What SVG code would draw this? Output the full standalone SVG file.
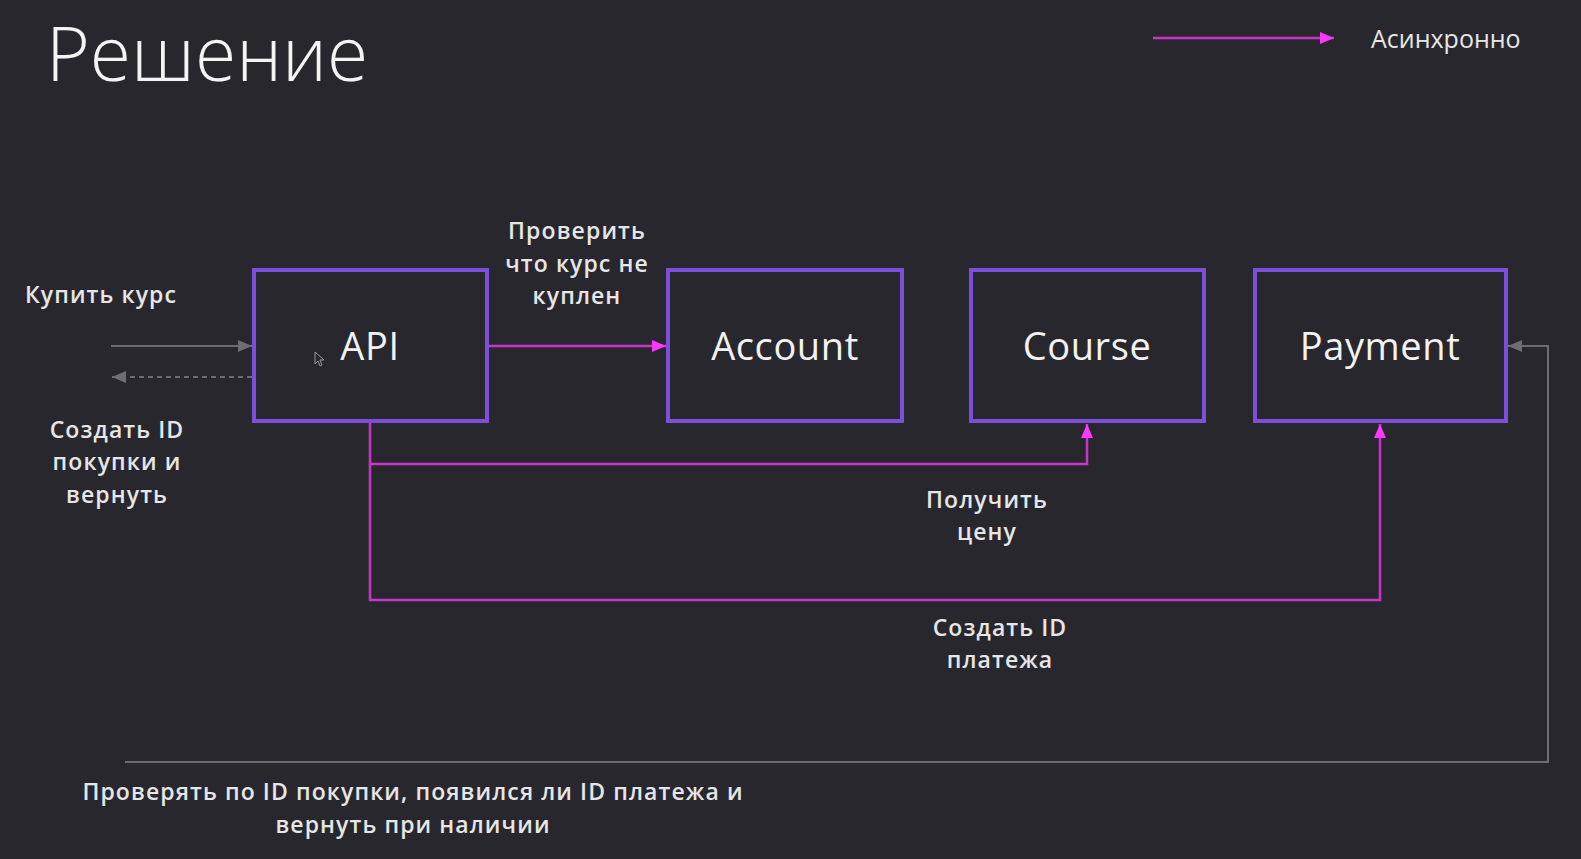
<svg xmlns="http://www.w3.org/2000/svg" width="1581" height="859" viewBox="0 0 1581 859">
<defs>
<style>
.bg{fill:#28272e}
.box{fill:none;stroke:#7b4fda;stroke-width:4}
.nl{font-family:"Open Sans","Liberation Sans",sans-serif;font-size:38px;letter-spacing:0.6px;fill:#f2f2f2;text-anchor:middle}
.lb{font-family:"Open Sans","Liberation Sans",sans-serif;font-size:23px;font-weight:600;letter-spacing:1.1px;fill:#e6e6e6;text-anchor:middle}
.mg{fill:none;stroke:#c835c8;stroke-width:2.5}
.gr{fill:none;stroke:#6e6d74;stroke-width:2}
</style>
<marker id="am" markerUnits="userSpaceOnUse" markerWidth="16" markerHeight="14" refX="14" refY="6" orient="auto"><path d="M0,0 L14,6 L0,12 z" fill="#ff38ff"/></marker>
<marker id="ag" markerUnits="userSpaceOnUse" markerWidth="16" markerHeight="14" refX="14" refY="6" orient="auto"><path d="M0,0 L14,6 L0,12 z" fill="#6e6d74"/></marker>
</defs>
<rect class="bg" x="0" y="0" width="1581" height="859"/>
<text x="46" y="81" font-family="'Open Sans','Liberation Sans',sans-serif" font-size="75" font-weight="300" fill="#f4f4f4">Решение</text>
<g id="legend">
<line class="mg" x1="1153" y1="38" x2="1334" y2="38" marker-end="url(#am)"/>
<text x="1371" y="48" font-family="'Open Sans','Liberation Sans',sans-serif" font-size="25" fill="#e6e6e6">Асинхронно</text>
</g>
<g id="connectors">
<line class="gr" x1="111" y1="346" x2="252" y2="346" marker-end="url(#ag)"/>
<line class="gr" x1="252" y1="377" x2="112" y2="377" stroke-dasharray="5,4" marker-end="url(#ag)"/>
<line class="mg" x1="489" y1="346" x2="666" y2="346" marker-end="url(#am)"/>
<path class="mg" d="M370,423 V464 H1087 V424" marker-end="url(#am)"/>
<path class="mg" d="M370,464 V600 H1380 V424" marker-end="url(#am)"/>
<path class="gr" d="M125,762 H1548 V346 H1508" marker-end="url(#ag)"/>
</g>
<g id="api">
<rect class="box" x="254" y="270" width="233" height="151"/>
<text class="nl" x="370" y="360">API</text>
</g>
<g id="account">
<rect class="box" x="668" y="270" width="234" height="151"/>
<text class="nl" x="785" y="360">Account</text>
</g>
<g id="course">
<rect class="box" x="971" y="270" width="233" height="151"/>
<text class="nl" x="1087" y="360">Course</text>
</g>
<g id="payment">
<rect class="box" x="1255" y="270" width="251" height="151"/>
<text class="nl" x="1380" y="360">Payment</text>
</g>
<g id="labels">
<text class="lb" x="101" y="303">Купить курс</text>
<text class="lb" x="117" y="438">Создать ID</text>
<text class="lb" x="117" y="470">покупки и</text>
<text class="lb" x="117" y="503">вернуть</text>
<text class="lb" x="577" y="239">Проверить</text>
<text class="lb" x="577" y="272">что курс не</text>
<text class="lb" x="577" y="304">куплен</text>
<text class="lb" x="987" y="508">Получить</text>
<text class="lb" x="987" y="540">цену</text>
<text class="lb" x="1000" y="636">Создать ID</text>
<text class="lb" x="1000" y="668">платежа</text>
<text class="lb" x="413" y="800">Проверять по ID покупки, появился ли ID платежа и</text>
<text class="lb" x="413" y="833">вернуть при наличии</text>
</g>
<path d="M315,352 V364 L318,361 L320,366 L322,365 L320,360 L324,360 Z" fill="#28272e" stroke="#9a9aa0" stroke-width="1"/>
</svg>
